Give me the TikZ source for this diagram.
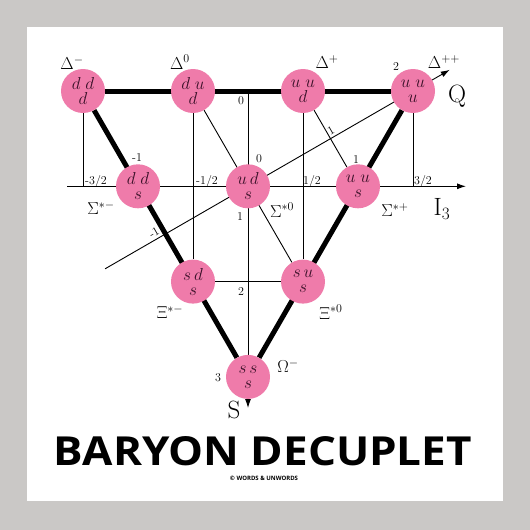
\documentclass[tikz,border=0pt]{standalone}
\usepackage{fontspec}
\usepackage{amsmath,amssymb}
\usetikzlibrary{arrows.meta,backgrounds}
\newfontfamily\titlefont{Open Sans}
\definecolor{posterbg}{HTML}{CAC8C6}
\definecolor{quarkpink}{HTML}{EF7BAA}
\definecolor{quarkink}{HTML}{3A1028}
\begin{document}
\begin{tikzpicture}[x=1pt,y=-1pt,>={Latex[length=9pt,width=6pt]},
	baryon/.style={circle,fill=quarkpink,minimum size=44pt,inner sep=0pt,align=center,text=quarkink,font=\fontsize{18}{15}\selectfont},
	partlabel/.style={font=\fontsize{18}{18}\selectfont,inner sep=0pt},
	tick/.style={font=\fontsize{12}{12}\selectfont,inner sep=0pt},
	axisname/.style={font=\fontsize{25}{25}\selectfont,inner sep=0pt},
	gridline/.style={line width=0.9pt},
	thickedge/.style={line width=5pt}]
			\begin{scope}[on background layer]
				\fill[posterbg] (0,0) rectangle (530,530);
				\fill[white] (27,27) rectangle (503,501);
			\end{scope}
			\node[baryon] (ddd) at (83,91) {$d\;d$\\$d$};
			\node[baryon] (dud) at (193,91) {$d\;u$\\$d$};
			\node[baryon] (uud) at (303,91) {$u\;u$\\$d$};
			\node[baryon] (uuu) at (413,91) {$u\;u$\\$u$};
			\node[baryon] (dds) at (138,186.3) {$d\;d$\\$s$};
			\node[baryon] (uds) at (248,186.3) {$u\,d$\\$s$};
			\node[baryon] (uus) at (358,186.3) {$u\;u$\\$s$};
			\node[baryon] (sds) at (193,281.6) {$s\,d$\\$s$};
			\node[baryon] (sus) at (303,281.6) {$s\,u$\\$s$};
			\node[baryon] (sss) at (248,376.9) {$s\,s$\\$s$};
			\node[partlabel] (dminus) at (72,63) {$\Delta^{-}$};
			\node[partlabel] (dzero) at (180,62) {$\Delta^{0}$};
			\node[partlabel] (dplus) at (327,62) {$\Delta^{+}$};
			\node[partlabel] (dplusplus) at (444,62) {$\Delta^{++}$};
			\node[partlabel] (sigminus) at (101,208) {$\Sigma^{*-}$};
			\node[partlabel] (sigzero) at (282,210) {$\Sigma^{*0}$};
			\node[partlabel] (sigplus) at (395,210) {$\Sigma^{*+}$};
			\node[partlabel] (ximinus) at (170,312) {$\Xi^{*-}$};
			\node[partlabel] (xizero) at (331,312) {$\Xi^{*0}$};
			\node[partlabel] (omminus) at (288,366) {$\Omega^{-}$};
			\node[tick] (ithree1) at (96,181) {-3/2};
			\node[tick] (ithree2) at (207,181) {-1/2};
			\node[tick] (ithree3) at (312,181) {1/2};
			\node[tick] (ithree4) at (423,181) {3/2};
			\node[tick] (qval1) at (137,158) {-1};
			\node[tick] (qval2) at (259,159) {0};
			\node[tick] (qval3) at (356,160) {1};
			\node[tick] (qval4) at (396,67) {2};
			\node[tick,rotate=30] (qtick1) at (154,233) {-1};
			\node[tick,rotate=30] (qtick2) at (331,131) {1};
			\node[tick] (sval0) at (241,101) {0};
			\node[tick] (sval1) at (240,217) {1};
			\node[tick] (sval2) at (241,292) {2};
			\node[tick] (sval3) at (218,378) {3};
			\node[axisname] (qlab) at (457,96) {Q};
			\node[axisname] (ilab) at (442,209) {I$_3$};
			\node[axisname] (slab) at (234,410) {S};
			\coordinate (itail) at (67,186.3);
			\coordinate (ihead) at (466,186.3);
			\coordinate (stop) at (248,91);
			\coordinate (sbottom) at (248,408);
			\coordinate (qtail) at (105.1,268.8);
			\coordinate (qhead) at (449.8,69.8);
			\begin{scope}[on background layer]
				\draw[gridline,->] (itail) -- (ihead);
				\draw[gridline,->] (stop) -- (sbottom);
				\draw[gridline,->] (qtail) -- (qhead);
				\draw[gridline] (ddd) -- (ddd |- itail);
				\draw[gridline] (uuu) -- (uuu |- itail);
				\draw[gridline] (dud) -- (sds);
				\draw[gridline] (uud) -- (sus);
				\draw[gridline] (dud) -- (sus);
				\draw[gridline] (uud) -- (uus);
				\draw[gridline] (sds) -- (sus);
				\draw[thickedge] (ddd) -- (uuu);
				\draw[thickedge] (ddd) -- (sss);
				\draw[thickedge] (uuu) -- (sss);
			\end{scope}
			\node[font=\titlefont\bfseries\fontsize{40}{40}\selectfont,xscale=1.1] (title) at (263,451) {BARYON DECUPLET};
			\node[font=\titlefont\bfseries\fontsize{6}{6}\selectfont] (credit) at (264,478) {© WORDS \& UNWORDS};
		\end{tikzpicture}
\end{document}
